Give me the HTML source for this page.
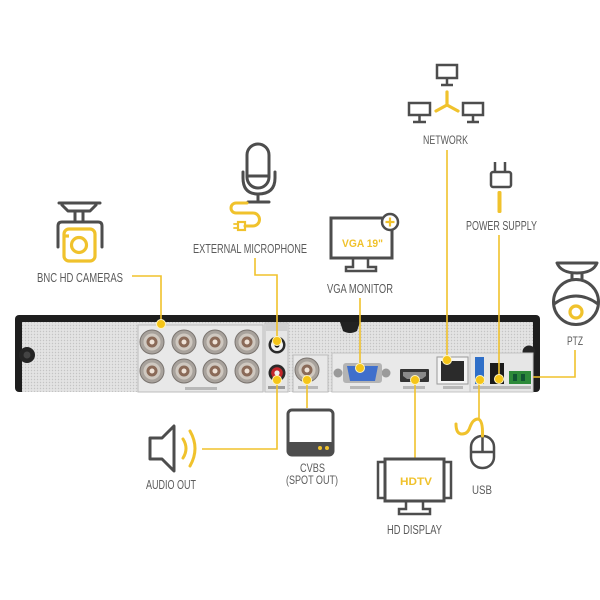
<!DOCTYPE html>
<html><head><meta charset="utf-8"><style>
html,body{margin:0;padding:0;background:#fff;}
svg{display:block;}
text{font-family:"Liberation Sans",sans-serif;}
</style></head><body>
<svg width="600" height="600" viewBox="0 0 600 600" xmlns="http://www.w3.org/2000/svg">
<defs>
<pattern id="dots" width="3" height="3" patternUnits="userSpaceOnUse">
<rect width="3" height="3" fill="#e3e3e3"/><circle cx="1.5" cy="1.5" r="0.7" fill="#c4c4c4"/>
</pattern>
</defs>
<rect width="600" height="600" fill="#fff"/>

<!-- DVR body -->
<rect x="15" y="315" width="525" height="77" rx="4" fill="#1e1e1e"/>
<rect x="22" y="322" width="511" height="70" fill="url(#dots)"/>
<path d="M340 322 H360 L357 331 Q350 335 343 331 Z" fill="#222"/>
<circle cx="27" cy="355" r="8" fill="#252525"/><circle cx="27" cy="355" r="3.5" fill="#444"/>
<circle cx="529" cy="352" r="6.5" fill="#252525"/>
<!-- sections -->
<rect x="138" y="325" width="125" height="67" fill="#e8e8e8" stroke="#bdbdbd" stroke-width="1"/>
<rect x="265" y="323" width="23" height="69" fill="#e6e6e6" stroke="#bdbdbd" stroke-width="1"/>
<rect x="266" y="323" width="21" height="8" fill="#cfcfcf"/>
<rect x="293" y="355" width="35" height="37" fill="#e8e8e8" stroke="#bdbdbd" stroke-width="1"/>
<rect x="332" y="353" width="138" height="39" fill="#e9e9e9" stroke="#c4c4c4" stroke-width="1"/>
<rect x="470" y="353" width="63" height="39" fill="#e6e6e6" stroke="#c4c4c4" stroke-width="1"/>
<rect x="185" y="387" width="32" height="3" fill="#b8b8b8"/>
<rect x="268" y="386" width="17" height="3" fill="#9a9a9a"/>
<rect x="298" y="386" width="20" height="3" fill="#b8b8b8"/>
<rect x="350" y="386" width="20" height="3" fill="#b8b8b8"/>
<rect x="403" y="386" width="22" height="3" fill="#b8b8b8"/>
<rect x="443" y="386" width="20" height="3" fill="#b8b8b8"/>
<rect x="473" y="386" width="58" height="3" fill="#b8b8b8"/>

<!-- BNC connectors -->
<g id="bnc">
<circle cx="152" cy="342" r="12" fill="#a8a29c" stroke="#7a746f" stroke-width="1"/><circle cx="152" cy="342" r="8.5" fill="#cfc8c0"/><circle cx="152" cy="342" r="5.5" fill="#8a6a58"/><circle cx="152" cy="342" r="2.5" fill="#efe3d8"/>
</g>
<use href="#bnc" x="32"/><use href="#bnc" x="63"/><use href="#bnc" x="95"/>
<use href="#bnc" y="29"/><use href="#bnc" x="32" y="29"/><use href="#bnc" x="63" y="29"/><use href="#bnc" x="95" y="29"/>
<use href="#bnc" x="155" y="28"/>
<!-- RCA -->
<circle cx="277" cy="345" r="8.5" fill="#2a2a2a"/><circle cx="277" cy="345" r="6" fill="#f2f2f2"/><circle cx="277" cy="345" r="2.6" fill="#1c1c1c"/>
<circle cx="277" cy="373" r="8.5" fill="#2a2a2a"/><circle cx="277" cy="373" r="5.8" fill="#c4262a"/><circle cx="277" cy="373" r="2.6" fill="#eee"/>
<!-- VGA -->
<circle cx="338" cy="373" r="4.5" fill="#9a9a9a"/><circle cx="386" cy="373" r="4.5" fill="#9a9a9a"/>
<rect x="343" y="363" width="39" height="20" rx="3" fill="#b4b4b4"/>
<path d="M347 366 H378 L375 381 H350 Z" fill="#3f6fcc"/>
<!-- HDMI -->
<rect x="400" y="369" width="29" height="13" rx="1" fill="#333"/>
<path d="M403 372 H426 V376 L422 379 H407 L403 376 Z" fill="#8a8a8a"/>
<!-- LAN -->
<rect x="437" y="357" width="31" height="27" fill="#f4f4f4" stroke="#999" stroke-width="1"/>
<rect x="441" y="361" width="23" height="20" fill="#2b2b2b"/>
<!-- USB -->
<rect x="475" y="357" width="9" height="27" fill="#2f6fc8"/>
<!-- power jack -->
<rect x="490" y="363" width="14" height="21" fill="#1a1a1a"/>
<!-- PTZ terminal -->
<rect x="509" y="371" width="22" height="13" fill="#2d8a3a"/>
<rect x="513" y="374" width="4" height="7" fill="#153"/><rect x="521" y="374" width="4" height="7" fill="#153"/>

<!-- connector lines -->
<g fill="none" stroke="#f0c22c" stroke-width="1.6">
<path d="M132 276 H161 V324"/>
<path d="M255 258 V275 H277 V341"/>
<path d="M360 298 V368"/>
<path d="M447 150 V360"/>
<path d="M499 235 V379"/>
<path d="M575 350 V377 H533"/>
<path d="M277 380 V449 H202"/>
<path d="M307 380 V408"/>
<path d="M415 380 V458"/>
<path d="M479 380 V419"/>
</g>
<g fill="#f5c518" stroke="#fff5c0" stroke-width="1">
<circle cx="161" cy="324" r="4.5"/>
<circle cx="277" cy="341" r="4.5"/>
<circle cx="277" cy="380" r="4.5"/>
<circle cx="307" cy="380" r="4.5"/>
<circle cx="360" cy="368" r="4.5"/>
<circle cx="415" cy="380" r="4.5"/>
<circle cx="447" cy="360" r="4.5"/>
<circle cx="480" cy="380" r="4.5"/>
<circle cx="499" cy="379" r="4.5"/>
</g>

<!-- Camera icon -->
<g fill="none" stroke="#4d4d4d" stroke-width="3" stroke-linejoin="round" stroke-linecap="round">
<path d="M59 203 H100"/>
<path d="M62 205 L68 211 H90 L96 205"/>
<path d="M75 211 V222 M83 211 V222"/>
<path d="M58 247 V226 Q58 222 62 222 H98 Q102 222 102 226 V247"/>
</g>
<g fill="none" stroke="#f0c22c" stroke-width="3.2">
<rect x="64" y="229" width="31" height="32" rx="5" fill="#fff"/>
<circle cx="79" cy="245" r="7.5"/>
<path d="M64 236 H69"/>
</g>

<!-- Microphone -->
<g fill="none" stroke="#4d4d4d" stroke-width="3" stroke-linecap="round">
<rect x="247" y="144" width="22" height="44" rx="11"/>
<path d="M248 176 H268"/>
<path d="M243 172 V178 Q243 194 258 194 Q275 194 275 178 V172"/>
<path d="M258 194 V201 M248 202 H269"/>
</g>
<g fill="none" stroke="#f0c22c" stroke-width="3" stroke-linecap="round">
<path d="M247 203 H236 A5 5 0 0 0 236 213 H253 A6.5 6.5 0 0 1 253 226 H245"/>
<rect x="238" y="222" width="7" height="8" stroke-width="2.2"/>
<path d="M234 224 H238 M234 228 H238" stroke-width="1.8"/>
</g>

<!-- Network -->
<g fill="none" stroke="#4d4d4d" stroke-width="2.5">
<rect x="437" y="65" width="20" height="13"/><path d="M447 78 V84 M441 85 H453"/>
<rect x="409" y="103" width="21" height="12"/><path d="M419.5 115 V121 M413 122 H426"/>
<rect x="463" y="103" width="20" height="12"/><path d="M473 115 V121 M467 122 H479"/>
</g>
<path d="M447 92 V105 M447 105 L436 111 M447 105 L458 111" fill="none" stroke="#f0c22c" stroke-width="3.2" stroke-linecap="round"/>

<!-- Power plug -->
<g fill="none" stroke="#4d4d4d" stroke-width="2.5">
<path d="M495 162 V172 M505 162 V172"/>
<rect x="491" y="172" width="20" height="15" rx="2"/>
</g>
<rect x="497.5" y="191" width="4" height="22" rx="1.5" fill="#f0c22c"/>

<!-- VGA monitor -->
<g fill="none" stroke="#4d4d4d" stroke-width="3">
<rect x="331" y="218" width="61" height="40" fill="#fff"/>
<path d="M353 258 V267 H346 V271 H376 V267 H368 V258" stroke-width="2.5"/>
<circle cx="390" cy="222" r="8" fill="#fff" stroke-width="2.5"/>
</g>
<path d="M390 217.5 V226.5 M385.5 222 H394.5" stroke="#f0c22c" stroke-width="2.2"/>
<text x="342" y="247" font-size="11" font-weight="bold" fill="#f0c22c" textLength="41" lengthAdjust="spacingAndGlyphs">VGA 19"</text>

<!-- PTZ dome -->
<g fill="none" stroke="#4d4d4d" stroke-width="3" stroke-linejoin="round">
<path d="M557 263 H597 Q593 273 577 273 Q561 273 557 263 Z"/>
<path d="M572 273 V279 M582 273 V279"/>
<circle cx="576" cy="302" r="22.5"/>
<path d="M554 304 Q576 288 598 304"/>
</g>
<circle cx="576" cy="312" r="6" fill="none" stroke="#f0c22c" stroke-width="3.2"/>

<!-- Speaker -->
<path d="M150 438 H162 L174 426 V471 L162 459 H150 Z" fill="none" stroke="#4d4d4d" stroke-width="3" stroke-linejoin="round"/>
<path d="M183 439 Q189 448.5 183 458 M190 431 Q200 448.5 190 466" fill="none" stroke="#f0c22c" stroke-width="3" stroke-linecap="round"/>

<!-- CVBS TV -->
<rect x="288" y="410" width="45" height="45" rx="4" fill="#fff" stroke="#4d4d4d" stroke-width="3"/>
<rect x="288" y="442" width="45" height="13" rx="2" fill="#4d4d4d"/>
<circle cx="320" cy="448" r="2" fill="#f0c22c"/><circle cx="327" cy="448" r="2" fill="#f0c22c"/>

<!-- HD display -->
<g fill="#fff" stroke="#4d4d4d">
<rect x="378" y="462" width="73" height="36" stroke-width="2.5"/>
<rect x="385" y="459" width="59" height="42" stroke-width="3"/>
<path d="M406 501 V509 H399 V514 H430 V509 H423 V501" fill="none" stroke-width="2.5"/>
</g>
<text x="400" y="485" font-size="11" font-weight="bold" fill="#f0c22c" textLength="32" lengthAdjust="spacingAndGlyphs">HDTV</text>

<!-- Mouse -->
<g fill="none" stroke="#4d4d4d" stroke-width="2.5">
<rect x="471" y="436" width="23" height="32" rx="11" fill="#fff"/>
<path d="M482.5 436 V452 M471 452 H494"/>
</g>
<path d="M456 424 Q456 434 462 434 Q468 434 470 427 Q473 419 478 419 Q483 420 482.5 436" fill="none" stroke="#f0c22c" stroke-width="3" stroke-linecap="round"/>

<!-- Labels -->
<g font-size="13" fill="#5a5a5a">
<text x="37" y="282" textLength="86" lengthAdjust="spacingAndGlyphs">BNC HD CAMERAS</text>
<text x="193" y="253" textLength="114" lengthAdjust="spacingAndGlyphs">EXTERNAL MICROPHONE</text>
<text x="423" y="144" font-size="11.5" textLength="45" lengthAdjust="spacingAndGlyphs">NETWORK</text>
<text x="466" y="230" textLength="71" lengthAdjust="spacingAndGlyphs">POWER SUPPLY</text>
<text x="327" y="293" textLength="66" lengthAdjust="spacingAndGlyphs">VGA MONITOR</text>
<text x="567" y="345" font-size="11.5" textLength="16" lengthAdjust="spacingAndGlyphs">PTZ</text>
<text x="146" y="489" textLength="50" lengthAdjust="spacingAndGlyphs">AUDIO OUT</text>
<text x="300" y="472" font-size="12" textLength="25" lengthAdjust="spacingAndGlyphs">CVBS</text>
<text x="286" y="484" font-size="12" textLength="52" lengthAdjust="spacingAndGlyphs">(SPOT OUT)</text>
<text x="387" y="534" textLength="55" lengthAdjust="spacingAndGlyphs">HD DISPLAY</text>
<text x="472" y="494" font-size="12" textLength="20" lengthAdjust="spacingAndGlyphs">USB</text>
</g>
</svg>
</body></html>
